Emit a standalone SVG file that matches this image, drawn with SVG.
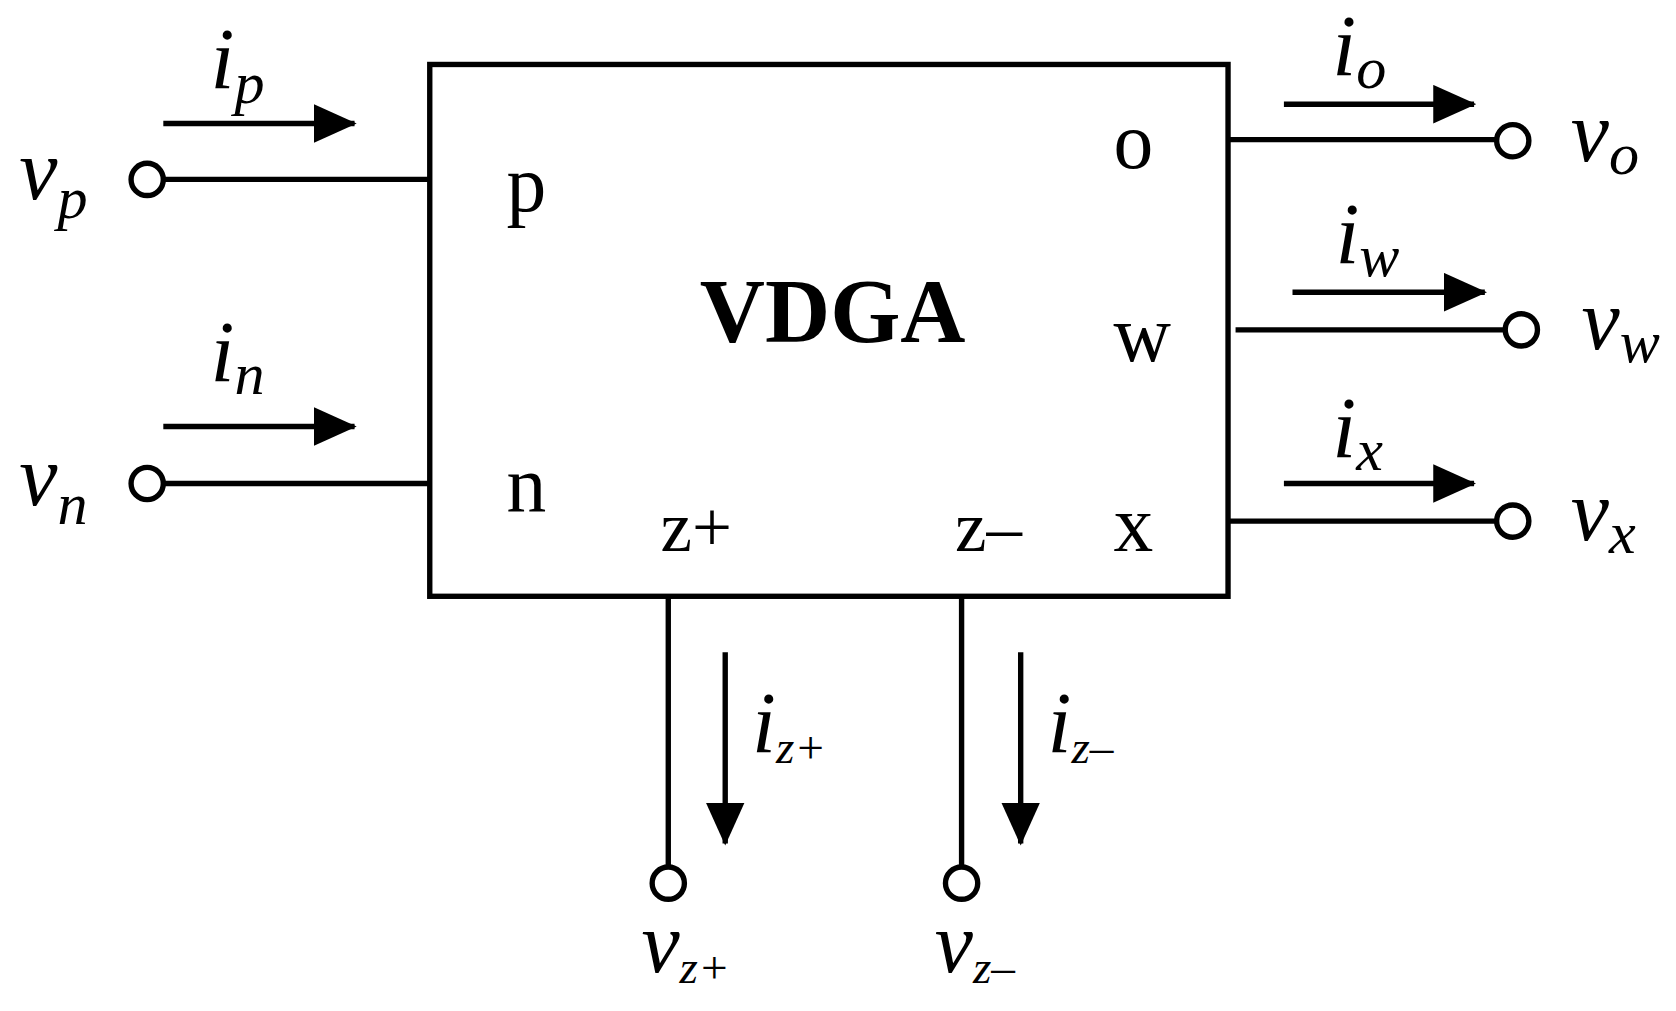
<svg xmlns="http://www.w3.org/2000/svg" width="1676" height="1011" viewBox="0 0 1676 1011">
<style>
.w{stroke:#000;stroke-width:5;fill:none}
.ar{stroke:#000;stroke-width:5;fill:none;marker-end:url(#a)}
text{font-family:"Liberation Serif","Times New Roman",Times,serif}
</style>
<defs><marker id="a" markerWidth="40" markerHeight="36" refX="38" refY="18" markerUnits="userSpaceOnUse" orient="auto"><path d="M0,0L40,18L0,36z" fill="#000" stroke="none"/></marker></defs>
<rect width="1676" height="1011" fill="#fff"/>
<g transform="scale(1.0744)">
<g id="box"><rect x="400" y="60" width="743" height="495" class="w"/>
<text x="775" y="318" font-size="84" font-weight="bold" text-anchor="middle">VDGA</text>
<text x="490" y="196" font-size="74" text-anchor="middle">p</text>
<text x="490" y="476" font-size="74" text-anchor="middle">n</text>
<text x="1055" y="156" font-size="74" text-anchor="middle">o</text>
<text x="1063" y="336" font-size="74" text-anchor="middle">w</text>
<text x="1055" y="513" font-size="74" text-anchor="middle">x</text>
<text x="648" y="513" font-size="66" text-anchor="middle">z+</text>
<text x="920" y="513" font-size="66" text-anchor="middle">z–</text></g>
<g id="connectors">
<path class="w" d="M152,167H400M152,450H400M1143,130H1393M1150,307H1401M1143,485H1393M622,555V807M895,555V807"/>
<path class="ar" d="M152,115H330"/><path class="ar" d="M152,397H330"/>
<path class="ar" d="M1195,97H1372"/><path class="ar" d="M1203,272H1382"/><path class="ar" d="M1195,450H1372"/>
<path class="ar" d="M675,607V785"/><path class="ar" d="M950,607V785"/>
</g>
<g id="terminals" class="w">
<circle cx="137" cy="167" r="15" fill="#fff"/><circle cx="137" cy="450" r="15" fill="#fff"/>
<circle cx="1408" cy="131" r="15" fill="#fff"/><circle cx="1416" cy="307" r="15" fill="#fff"/><circle cx="1408" cy="485" r="15" fill="#fff"/>
<circle cx="622" cy="822" r="15" fill="#fff"/><circle cx="895" cy="822" r="15" fill="#fff"/>
</g>
<g id="labels" font-style="italic">
<text x="18" y="185" font-size="80">v<tspan font-size="56" dy="18">p</tspan></text>
<text x="18" y="470" font-size="80">v<tspan font-size="56" dy="18">n</tspan></text>
<text x="196" y="82" font-size="80">i<tspan font-size="56" dy="14">p</tspan></text>
<text x="196" y="355" font-size="80">i<tspan font-size="56" dy="12">n</tspan></text>
<text x="1240" y="70" font-size="80">i<tspan font-size="56" dy="12">o</tspan></text>
<text x="1243" y="245" font-size="80">i<tspan font-size="56" dy="12">w</tspan></text>
<text x="1240" y="425" font-size="80">i<tspan font-size="56" dy="12">x</tspan></text>
<text x="1462" y="150" font-size="80">v<tspan font-size="56" dy="12">o</tspan></text>
<text x="1472" y="325" font-size="80">v<tspan font-size="56" dy="12">w</tspan></text>
<text x="1462" y="503" font-size="80">v<tspan font-size="56" dy="12">x</tspan></text>
<text x="700" y="700" font-size="80">i<tspan font-size="44" dy="10">z+</tspan></text>
<text x="975" y="700" font-size="80">i<tspan font-size="44" dy="10">z–</tspan></text>
<text x="597" y="905" font-size="80">v<tspan font-size="44" dy="10">z+</tspan></text>
<text x="870" y="905" font-size="80">v<tspan font-size="44" dy="10">z–</tspan></text>
</g>
</g>
</svg>
